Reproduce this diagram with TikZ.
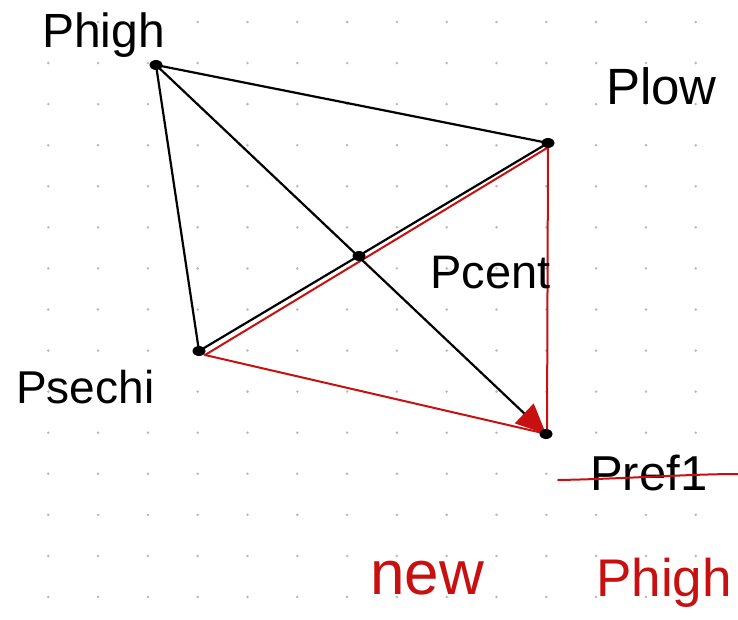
\documentclass[tikz,border=0pt]{standalone}
\usepackage{fontspec}
\setmainfont{Liberation Sans}
\usetikzlibrary{arrows.meta}
\definecolor{pen}{RGB}{200,16,16}
\definecolor{dotc}{RGB}{185,185,185}
\begin{document}
\begin{tikzpicture}[x=1pt,y=-1pt,
  blk/.style={line width=2.2pt, black, line cap=round},
  redl/.style={line width=2pt, pen, line cap=round},
  lbl/.style={inner sep=0pt, anchor=base west},
  ptdot/.style={black}]
\useasboundingbox (0,0) rectangle (738,620);
\fill[white] (0,0) rectangle (738,620);
% dot grid
\foreach \i in {0,...,14}{
  \foreach \j in {0,...,14}{
    \fill[dotc] ({-1.5+49.8*\i},{22+41.07*\j}) circle (1.4);
  }
}
% points
\coordinate (Phigh) at (156,65);
\coordinate (Plow) at (548,143);
\coordinate (Pcent) at (359,256);
\coordinate (Psechi) at (199,351);
\coordinate (Pref) at (546,434);
\coordinate (rS) at (205,355);
\coordinate (rL) at (547,148);
\coordinate (rL2) at (548,146);
\coordinate (rR) at (547,434);
\coordinate (sA) at (558,480);
\coordinate (sB) at (738,474);
% red lines
\draw[redl] (rS) -- (rL);
\draw[redl] (rL2) -- (rR);
\draw[redl] (rS) -- (rR);
% black lines
\draw[blk] (Phigh) -- (Plow);
\draw[blk] (Phigh) -- (Psechi);
\draw[blk] (Psechi) -- (Plow);
\draw[blk, -{Triangle[length=30pt,width=27pt,color=pen,fill=pen]}] (Phigh) -- (Pref);
% point dots
\foreach \p in {Phigh,Plow,Pcent,Psechi,Pref}{
  \fill[ptdot] (\p) ellipse (6.5pt and 5pt);
}
% labels
\node[lbl, font=\fontsize{48}{52}\selectfont] (tPhigh) at (42,48) {Phigh};
\node[lbl, font=\fontsize{51}{54}\selectfont] (tPlow) at (606,105) {Plow};
\node[lbl, font=\fontsize{47}{50}\selectfont] (tPcent) at (430,288) {Pcent};
\node[lbl, font=\fontsize{46}{50}\selectfont] (tPsechi) at (16,403) {Psechi};
\node[lbl, font=\fontsize{49}{52}\selectfont] (tPref) at (590,490) {Pref1};
\node[lbl, font=\fontsize{62}{66}\selectfont, text=pen] (tnew) at (370,594) {new};
\node[lbl, font=\fontsize{53}{56}\selectfont, text=pen] (tPhigh2) at (596,596) {Phigh};
% strike-through
\draw[redl] (sA) .. controls (620,479) and (690,474) .. (sB);
\end{tikzpicture}
\end{document}
